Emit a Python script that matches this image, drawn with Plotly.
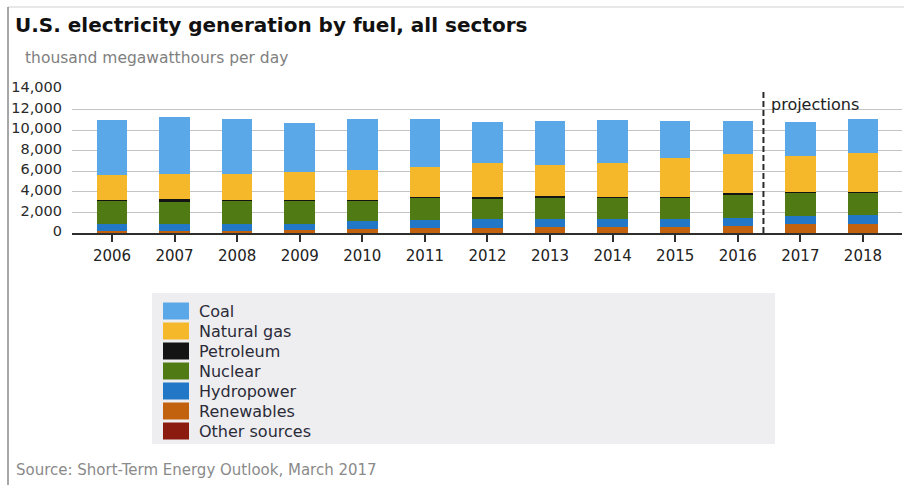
import plotly.graph_objects as go

# U.S. electricity generation by fuel, thousand megawatthours per day
years = [2006, 2007, 2008, 2009, 2010, 2011, 2012, 2013, 2014, 2015, 2016, 2017, 2018]

other_sources = [30, 30, 30, 30, 30, 30, 30, 30, 30, 30, 30, 30, 30]
renewables = [150, 170, 200, 230, 380, 420, 490, 520, 560, 590, 660, 820, 820]
hydropower = [740, 710, 690, 660, 740, 850, 800, 800, 740, 720, 810, 820, 900]
nuclear = [2220, 2130, 2200, 2200, 2000, 2180, 2060, 2130, 2110, 2100, 2290, 2270, 2190]
petroleum = [100, 250, 110, 100, 70, 60, 100, 70, 70, 70, 60, 50, 50]
natural_gas = [2380, 2490, 2550, 2720, 2880, 2880, 3280, 3040, 3250, 3830, 3810, 3480, 3740]
coal = [5380, 5520, 5270, 4720, 4950, 4630, 4050, 4290, 4180, 3540, 3240, 3340, 3310]

y_tick_values = [0, 2000, 4000, 6000, 8000, 10000, 12000, 14000]
y_tick_labels = ["0", "2,000", "4,000", "6,000", "8,000", "10,000", "12,000", "14,000"]
x_tick_labels = [str(y) for y in years]

projection_divider = 2016.41  # boundary between history and forecast years

# stacking order, bottom first
series = [
    ("Other sources", other_sources, "#8c1b0f"),
    ("Renewables", renewables, "#c2620f"),
    ("Hydropower", hydropower, "#2277c6"),
    ("Nuclear", nuclear, "#4f7a14"),
    ("Petroleum", petroleum, "#141414"),
    ("Natural gas", natural_gas, "#f5b82a"),
    ("Coal", coal, "#5aa8e8"),
]

W, H = 904, 485
ML, MR, MT, MB = 72, 2, 89, 252
PW, PH = W - ML - MR, H - MT - MB

FONT = "DejaVu Sans"


def px_x(px):
    return (px - ML) / PW


def px_y(py):
    return (H - MB - py) / PH


fig = go.Figure()
for name, values, color in series:
    fig.add_trace(go.Bar(
        x=years, y=values, name=name, width=0.487,
        marker=dict(color=color, line=dict(width=0)),
        showlegend=False,
    ))

shapes = []
annotations = []

# frame lines of the graphic
shapes.append(dict(type="line", xref="paper", yref="paper",
                   x0=px_x(8), x1=px_x(904), y0=px_y(7), y1=px_y(7),
                   line=dict(color="#cfcfcf", width=1)))
shapes.append(dict(type="line", xref="paper", yref="paper",
                   x0=px_x(8), x1=px_x(8), y0=px_y(7), y1=px_y(485),
                   line=dict(color="#8a8a8a", width=1.5)))

# projections divider
shapes.append(dict(type="line", xref="x", yref="y",
                   x0=projection_divider, x1=projection_divider, y0=0, y1=14000,
                   line=dict(color="#2a2a2a", width=2, dash="6px,3px")))
annotations.append(dict(xref="x", yref="paper", x=projection_divider, y=px_y(104),
                        xshift=6, xanchor="left", yanchor="middle", showarrow=False,
                        text="projections", font=dict(family=FONT, size=16, color="#222222")))

# legend panel
shapes.append(dict(type="rect", xref="paper", yref="paper", layer="below",
                   x0=px_x(152), x1=px_x(775), y0=px_y(293), y1=px_y(444),
                   fillcolor="#eeeef0", line=dict(width=0)))

legend_items = list(reversed(series))
for i, (name, _, color) in enumerate(legend_items):
    cy = 311 + 20 * i
    shapes.append(dict(type="rect", xref="paper", yref="paper",
                       x0=px_x(163), x1=px_x(189), y0=px_y(cy - 8.5), y1=px_y(cy + 8.5),
                       fillcolor=color, line=dict(width=0)))
    annotations.append(dict(xref="paper", yref="paper", x=px_x(197), y=px_y(cy),
                            xanchor="left", yanchor="middle", showarrow=False, text=name,
                            font=dict(family=FONT, size=16, color="#2b2b38")))

# subtitle and source
annotations.append(dict(xref="paper", yref="paper", x=px_x(23), y=px_y(58),
                        xanchor="left", yanchor="middle", showarrow=False,
                        text="thousand megawatthours per day",
                        font=dict(family=FONT, size=15.5, color="#7f7f7f")))
annotations.append(dict(xref="paper", yref="paper", x=px_x(14), y=px_y(470),
                        xanchor="left", yanchor="middle", showarrow=False,
                        text="Source: Short-Term Energy Outlook, March 2017",
                        font=dict(family=FONT, size=15, color="#8a8a8a")))

fig.update_layout(
    width=W, height=H,
    margin=dict(l=ML, r=MR, t=MT, b=MB, pad=0),
    paper_bgcolor="white", plot_bgcolor="white",
    barmode="stack", bargap=0,
    showlegend=False,
    title=dict(text="<b>U.S. electricity generation by fuel, all sectors</b>",
               xref="container", yref="container", x=15 / W, y=1 - 25 / H,
               xanchor="left", yanchor="middle",
               font=dict(family=FONT, size=20, color="#111111")),
    xaxis=dict(range=[2005.361, 2018.624], tickvals=years, ticktext=x_tick_labels,
               showgrid=False, zeroline=False, showline=True, linecolor="#2e2e2e", linewidth=2,
               ticks="outside", ticklen=7, tickwidth=2, tickcolor="#2e2e2e",
               ticklabelstandoff=1,
               tickfont=dict(family=FONT, size=15, color="#222222")),
    yaxis=dict(range=[0, 14000], tickvals=y_tick_values, ticktext=y_tick_labels,
               showgrid=True, gridcolor="#c4c4c4", gridwidth=1, zeroline=False,
               showline=False, ticks="", ticklabelstandoff=9, ticklabelshift=-2,
               tickfont=dict(family=FONT, size=14.5, color="#2a2a2a")),
    shapes=shapes,
    annotations=annotations,
)

fig.write_html("out.html")
